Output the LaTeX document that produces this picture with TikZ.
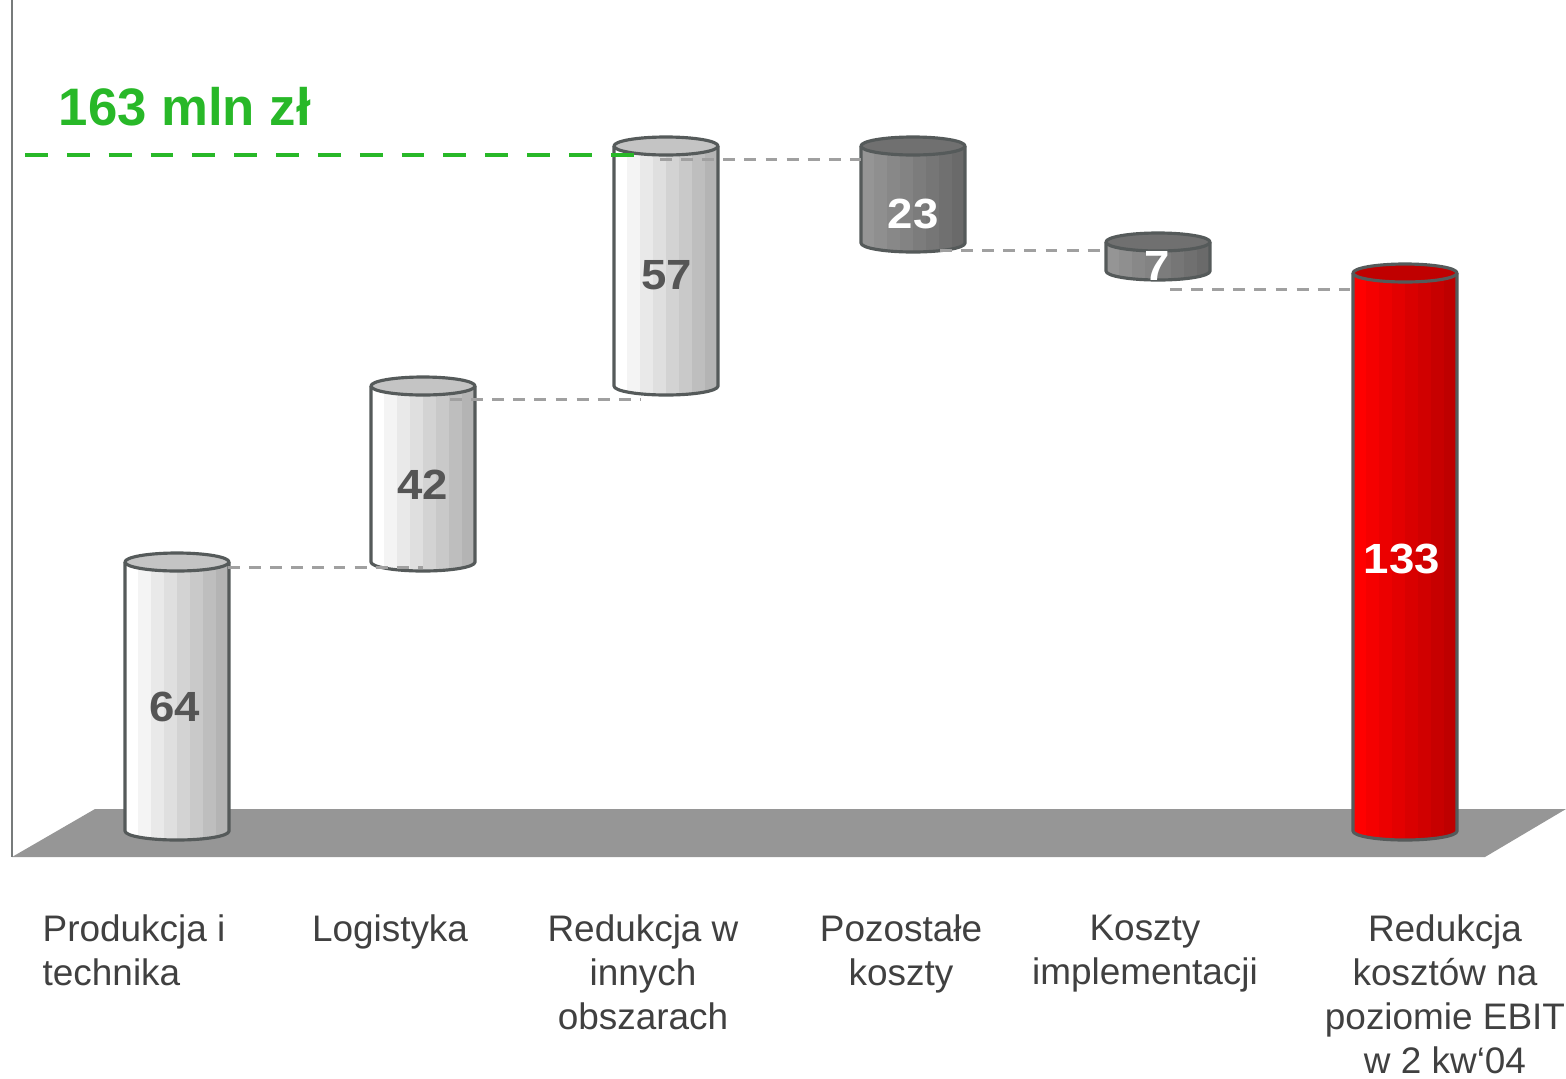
\documentclass[tikz,border=0pt]{standalone}
\usepackage{fontspec}
\setmainfont{Liberation Sans}
\usetikzlibrary{calc}

\definecolor{floorgray}{HTML}{969696}
\definecolor{rimgray}{HTML}{555A5A}
\definecolor{bridgegray}{HTML}{A0A0A0}
\definecolor{totalgreen}{RGB}{40,184,40}
\definecolor{labelgray}{HTML}{404040}
\definecolor{numgray}{HTML}{555555}
\definecolor{lightA}{HTML}{FFFFFF}
\definecolor{lightB}{HTML}{B4B4B4}
\definecolor{lightcap}{HTML}{C4C4C4}
\definecolor{darkA}{HTML}{959595}
\definecolor{darkB}{HTML}{6A6A6A}
\definecolor{darkcap}{HTML}{707070}
\definecolor{redA}{HTML}{FF0000}
\definecolor{redB}{HTML}{BE0000}
\definecolor{redcap}{HTML}{C00000}

% #1 name, #2 left x, #3 top y, #4 bottom y, #5/#6 stripe colours, #7 cap colour
\newcommand{\drum}[7]{
  \begin{scope}
    \clip (#2,#3) -- (#2,#4) arc[start angle=180,end angle=360,x radius=0.52cm,y radius=0.09cm] -- (#2+104,#3) -- cycle;
    \foreach \i in {0,...,7} {
      \pgfmathtruncatemacro\mix{100-\i*100/7}
      \fill[#5!\mix!#6] (#2+\i*13,#3) rectangle (#2+\i*13+13,#4+12);
    }
  \end{scope}
  \draw[barrim] (#2,#3) -- (#2,#4) arc[start angle=180,end angle=360,x radius=0.52cm,y radius=0.09cm] -- (#2+104,#3);
  \filldraw[barrim,fill=#7] (#2+52,#3) ellipse[x radius=0.52cm,y radius=0.09cm];
  \coordinate (#1-t) at (#2+52,#3);
  \coordinate (#1-b) at (#2+52,#4);
}

\begin{document}
\begin{tikzpicture}[x=0.01cm,y=-0.01cm,
    barrim/.style={draw=rimgray,line width=0.9pt,line join=round},
    bridge/.style={draw=bridgegray,line width=0.85pt,dash pattern=on 3.4pt off 2.6pt},
    totalline/.style={draw=totalgreen,line width=1.4pt,dash pattern=on 6.5pt off 5.4pt},
    catlabel/.style={inner sep=0pt,anchor=north,align=center,text=labelgray,font=\fontsize{10.5}{12.5}\selectfont},
    barnum/.style={inner sep=0pt,xscale=1.08,transform shape,font=\fontsize{12}{14}\bfseries}]
    \useasboundingbox (0,0) rectangle (1566,1078);

    \fill[floorgray] (12,857) -- (95,809) -- (1566,809) -- (1485,857) -- cycle;
    \draw[draw=rimgray!80,line width=0.6pt] (12,0) -- (12,857);

    \drum{prod}{125}{562}{831}{lightA}{lightB}{lightcap}
    \drum{logi}{371}{386}{562}{lightA}{lightB}{lightcap}
    \drum{redu}{614}{146}{386}{lightA}{lightB}{lightcap}
    \drum{othr}{861}{146}{243}{darkA}{darkB}{darkcap}
    \drum{impl}{1106}{242}{271}{darkA}{darkB}{darkcap}
    \drum{ebit}{1353}{273}{831}{redA}{redB}{redcap}

    \node[barnum,text=numgray] (prod-num) at (175,707) {64};
    \node[barnum,text=numgray] (logi-num) at (423,485) {42};
    \node[barnum,text=numgray] (redu-num) at (667,275) {57};
    \node[barnum,text=white] (othr-num) at (913,214) {23};
    \node[barnum,text=white] (impl-num) at (1157,266) {7};
    \node[barnum,text=white] (ebit-num) at (1402,559) {133};

    \draw[bridge] ($(prod-t)+(51,5)$) -- ($(prod-t -| logi-b)+(0,5)$);
    \draw[bridge] ($(logi-t)+(27,13)$) -- ($(logi-t -| redu-t)+(-26,13)$);
    \draw[bridge] ($(redu-t)+(-6,13)$) -- ($(redu-t -| othr-t)+(-52,13)$);
    \draw[bridge] ($(othr-b)+(27,7)$) -- ($(othr-b -| impl-t)+(-52,7)$);
    \draw[bridge] ($(impl-b)+(12,18)$) -- ($(impl-b -| ebit-t)+(-55,18)$);

    \node[anchor=base west,inner sep=0pt,text=totalgreen,font=\fontsize{15}{18}\bfseries] (total) at (58,125) {163 mln zł};
    \coordinate (total-start) at (25,155);
    \draw[totalline] (total-start) -- ($(redu-t)+(-31,9)$);

    \node[catlabel,anchor=north west,align=left] (prod-lab) at (42,914) {Produkcja i\\technika};
    \node[catlabel] (logi-lab) at (390,914) {Logistyka};
    \node[catlabel] (redu-lab) at (643,914) {Redukcja w\\innych\\obszarach};
    \node[catlabel] (othr-lab) at (901,914) {Pozostałe\\koszty};
    \node[catlabel] (impl-lab) at (1145,914) {Koszty\\implementacji};
    \node[catlabel] (ebit-lab) at (1445,914) {Redukcja\\kosztów na\\poziomie EBIT\\w 2 kw‘04};
\end{tikzpicture}
\end{document}
